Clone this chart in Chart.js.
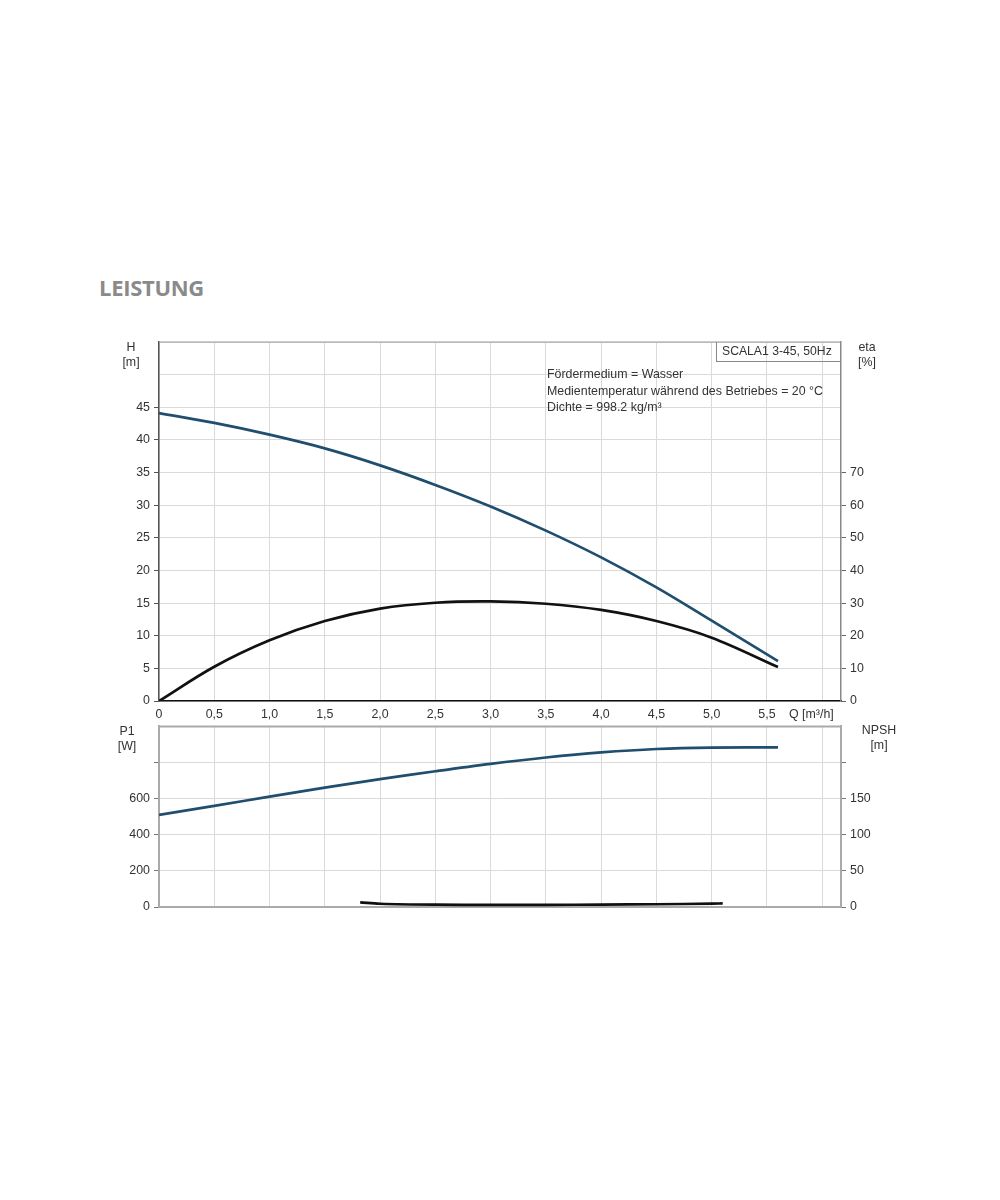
<!DOCTYPE html>
<html>
<head>
<meta charset="utf-8">
<script src="https://cdn.jsdelivr.net/npm/chart.js@4"></script>
<style>
  body { margin: 0; background: #fff; width: 1000px; height: 1200px; position: relative; font-family: "Liberation Sans", Arial, sans-serif; }
  .box { position: absolute; }
  .lbl { position: absolute; font-size: 12.4px; color: #333; line-height: 15px; white-space: nowrap; }
  .c { text-align: center; }
  #title { position: absolute; left: 99px; top: 272px; font-family: "Open Sans", sans-serif; font-weight: 700; font-size: 22px; color: #8a8a8a; letter-spacing: -0.3px; }
  #legend { position: absolute; left: 716px; top: 342px; width: 118px; height: 19px; border: 1px solid #888; border-right: none; border-top: none; font-size: 12.2px; color: #333; line-height: 19px; padding-left: 5px; }
</style>
</head>
<body>
<div id="title">LEISTUNG</div>

<div class="box" style="left:0; top:330px; width:1000px; height:392px;"><canvas id="top"></canvas></div>
<div class="box" style="left:0; top:715px; width:1000px; height:210px;"><canvas id="bottom"></canvas></div>

<div class="lbl c" style="left:116px; top:340px; width:30px;">H<br>[m]</div>
<div class="lbl c" style="left:852px; top:340px; width:30px;">eta<br>[%]</div>
<div class="lbl c" style="left:112px; top:724px; width:30px;">P1<br>[W]</div>
<div class="lbl c" style="left:859px; top:723px; width:40px;">NPSH<br>[m]</div>
<div class="lbl" style="left:789px; top:707px;">Q [m³/h]</div>
<div id="legend">SCALA1 3-45, 50Hz</div>
<div class="lbl" style="left:547px; top:366px; line-height:16.5px;">Fördermedium = Wasser<br>Medientemperatur während des Betriebes = 20 °C<br>Dichte = 998.2 kg/m³</div>

<script>
// flow rate Q [m3/h]
const flow = [0, 0.5, 1.0, 1.5, 2.0, 2.5, 3.0, 3.5, 4.0, 4.5, 5.0, 5.6];
// head H [m]
const head = [44.1, 42.6, 40.8, 38.7, 36.1, 33.1, 29.8, 26.1, 22.0, 17.4, 12.3, 6.1];
// efficiency eta [%]
const eta = [0, 10.5, 18.6, 24.5, 28.3, 30.1, 30.5, 29.8, 27.9, 24.5, 19.4, 10.4];
// power P1 [W]
const power = [510, 560, 611, 661, 708, 752, 793, 828, 856, 875, 883, 884];
// NPSH [m]
const npshFlow = [1.82, 2.0, 2.5, 3.0, 3.5, 4.0, 4.5, 5.0, 5.1];
const npsh = [6.4, 4.5, 3.2, 3.0, 3.0, 3.3, 3.8, 4.6, 5.0];

const qMax = 6.17;
const qLabelMax = 5.5;

const BLUE = "#1f4e6e";
const BLACK = "#111";
const GRID = "#dadada";
const tickFont = { family: "'Liberation Sans', Arial, sans-serif", size: 12.4 };

function pts(xs, ys) {
    return xs.map((x, i) => ({ x: x, y: ys[i] }));
}

function qLabel(v) {
    if (v > qLabelMax + 0.01) return "";
    return v === 0 ? "0" : v.toFixed(1).replace(".", ",");
}

// draws the top border of the plot area
const topEdge = {
    id: "topEdge",
    afterDraw(chart, args, opts) {
        const a = chart.chartArea;
        const ctx = chart.ctx;
        ctx.save();
        ctx.strokeStyle = opts.color;
        ctx.lineWidth = opts.width;
        ctx.beginPath();
        ctx.moveTo(a.left, a.top);
        ctx.lineTo(a.right, a.top);
        ctx.stroke();
        ctx.restore();
    }
};

function lineSet(data, color, axis) {
    return {
        data: data,
        yAxisID: axis,
        borderColor: color,
        borderWidth: 2.7,
        pointRadius: 0,
        tension: 0.35,
        fill: false
    };
}

new Chart(document.getElementById("top"), {
    type: "line",
    data: {
        datasets: [
            lineSet(pts(flow, head), BLUE, "h"),
            lineSet(pts(flow, eta), BLACK, "eta")
        ]
    },
    options: {
        responsive: true,
        maintainAspectRatio: false,
        animation: false,
        layout: { padding: { top: 12, left: 0, right: 0, bottom: 0 } },
        plugins: { legend: { display: false }, tooltip: { enabled: false }, topEdge: { color: "#999", width: 1 } },
        scales: {
            x: {
                type: "linear",
                min: 0,
                max: qMax,
                afterFit: s => { s.height = 21; },
                ticks: { stepSize: 0.5, includeBounds: false, autoSkip: false, maxRotation: 0, padding: 6, color: "#333", font: tickFont, callback: qLabel },
                grid: { color: GRID, drawTicks: false },
                border: { color: "#111", width: 1.5 }
            },
            h: {
                position: "left",
                min: 0,
                max: 55,
                afterFit: s => { s.width = 159; },
                ticks: { stepSize: 5, padding: 4, color: "#333", font: tickFont, callback: v => v <= 45 ? v : "" },
                grid: { color: GRID, tickLength: 5, tickColor: c => c.tick && c.tick.value <= 45 ? "#555" : "rgba(0,0,0,0)" },
                border: { color: "#555", width: 1.5 }
            },
            eta: {
                position: "right",
                min: 0,
                max: 110,
                afterFit: s => { s.width = 159; },
                ticks: { stepSize: 10, padding: 4, color: "#333", font: tickFont, callback: v => v <= 70 ? v : "" },
                grid: { drawOnChartArea: false, tickLength: 5, tickColor: c => c.tick && c.tick.value <= 70 ? "#666" : "rgba(0,0,0,0)" },
                border: { color: "#888", width: 1.5 }
            }
        }
    },
    plugins: [topEdge]
});

new Chart(document.getElementById("bottom"), {
    type: "line",
    data: {
        datasets: [
            lineSet(pts(flow, power), BLUE, "p1"),
            lineSet(pts(npshFlow, npsh), BLACK, "npsh")
        ]
    },
    options: {
        responsive: true,
        maintainAspectRatio: false,
        animation: false,
        layout: { padding: { top: 9, left: 0, right: 0, bottom: 0 } },
        plugins: { legend: { display: false }, tooltip: { enabled: false }, topEdge: { color: "#aaa", width: 2 } },
        scales: {
            x: {
                type: "linear",
                min: 0,
                max: qMax,
                afterFit: s => { s.height = 18; },
                ticks: { stepSize: 0.5, includeBounds: false, display: false },
                grid: { color: GRID, drawTicks: false },
                border: { color: "#aaa", width: 2 }
            },
            p1: {
                position: "left",
                min: 0,
                max: 1000,
                afterFit: s => { s.width = 159; },
                ticks: { stepSize: 200, padding: 4, color: "#333", font: tickFont, callback: v => v <= 600 ? v : "" },
                grid: { color: GRID, tickLength: 5, tickColor: c => c.tick && c.tick.value < 1000 ? "#777" : "rgba(0,0,0,0)" },
                border: { color: "#aaa", width: 2 }
            },
            npsh: {
                position: "right",
                min: 0,
                max: 250,
                afterFit: s => { s.width = 159; },
                ticks: { stepSize: 50, padding: 4, color: "#333", font: tickFont, callback: v => v <= 150 ? v : "" },
                grid: { drawOnChartArea: false, tickLength: 5, tickColor: c => c.tick && c.tick.value < 250 ? "#777" : "rgba(0,0,0,0)" },
                border: { color: "#aaa", width: 2 }
            }
        }
    },
    plugins: [topEdge]
});
</script>
</body>
</html>
